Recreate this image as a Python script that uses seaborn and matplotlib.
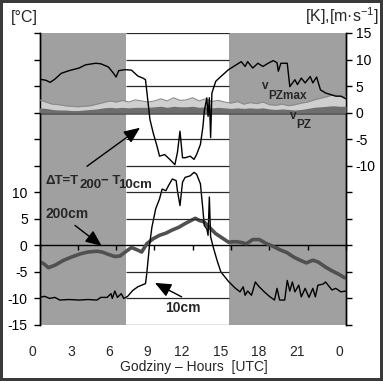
import numpy as np
import matplotlib
matplotlib.use("Agg")
import matplotlib.pyplot as plt
import matplotlib.transforms as mtransforms
import seaborn as sns

# Temperature difference dT = T200 - T10cm [K] (right axis)
dt_hours = [0.0, 0.5, 0.83, 1.2, 1.7, 2.3, 3.1, 3.6, 4.4, 4.8, 5.4, 5.8, 6.0, 6.2,
            6.7, 7.2, 7.7, 8.1, 8.3, 8.5, 8.65, 8.9, 9.2, 9.4, 9.8, 10.2, 10.6,
            10.8, 11.0, 11.2, 11.4, 11.8, 12.1, 12.3, 12.6, 12.8, 12.9, 13.1,
            13.2, 13.3, 13.4, 13.5, 13.8, 14.2, 14.8, 15.4, 15.8, 16.1, 16.3,
            16.7, 17.1, 17.5, 17.9, 18.3, 18.6, 18.7, 18.9, 19.1, 19.4, 19.6,
            20.0, 20.2, 20.5, 20.8, 21.2, 21.4, 21.7, 22.0, 22.4, 22.8, 23.2,
            23.6, 24.0]
dt_vals = [6.3, 6.1, 5.7, 6.3, 7.4, 7.9, 8.4, 9.0, 9.3, 9.2, 8.6, 7.4, 6.7, 7.9,
           8.1, 8.0, 6.9, 6.5, 6.2, 1.9, -1.3, -3.8, -6.3, -8.2, -7.9, -8.8, -9.8,
           -7.5, -3.5, -8.5, -8.5, -8.2, -8.8, -7.9, -6.0, -2.6, 0.2, 2.8,
           -0.7, 2.8, -4.7, 3.7, 5.9, 6.8, 8.1, 9.0, 9.6, 8.7, 9.6,
           8.4, 9.3, 8.7, 9.3, 9.8, 9.4, 7.8, 9.3, 9.3, 9.3, 4.9,
           6.2, 5.3, 6.5, 5.6, 6.8, 5.6, 6.7, 4.3, 3.7, 3.4, 3.1,
           3.1, 2.6]

# Air temperature at 200 cm [deg C] (left axis)
t200_hours = [0.0, 0.3, 0.7, 1.2, 1.9, 2.5, 3.2, 3.8, 4.5, 4.9, 5.4, 5.9, 6.3, 6.8,
              7.2, 7.7, 8.0, 8.4, 8.9, 9.4, 9.9, 10.4, 10.9, 11.4, 11.8, 12.2,
              12.5, 12.9, 13.3, 13.8, 14.3, 14.8, 15.3, 15.7, 16.2, 16.7, 17.2,
              17.8, 18.3, 18.8, 19.4, 19.9, 20.4, 20.9, 21.4, 21.8, 22.4, 22.9,
              23.4, 23.9]
t200_vals = [-3.1, -3.4, -4.2, -3.75, -2.8, -2.2, -1.6, -1.25, -1.1, -1.25, -1.7,
             -2.1, -2.0, -1.1, -0.4, -0.9, -1.25, 0.3, 1.25, 1.9, 2.3, 2.9, 3.4,
             4.1, 4.6, 5.1, 4.7, 4.4, 3.4, 2.2, 1.4, 0.6, 0.7, 0.6, 0.3, 1.1, 1.1,
             0.3, -0.2, -0.8, -1.4, -2.2, -2.8, -3.3, -2.8, -3.1, -4.1, -4.8,
             -5.4, -6.1]

# Temperature at 10 cm [deg C] (left axis)
t10_hours = [0.0, 0.4, 0.8, 1.2, 1.6, 2.3, 3.1, 3.8, 4.5, 4.8, 5.3, 5.6, 5.7, 5.9,
             6.1, 6.4, 6.6, 6.9, 7.3, 7.7, 8.3, 8.4, 8.6, 8.8, 9.1, 9.4, 9.6,
             9.9, 10.1, 10.4, 10.7, 10.8, 11.0, 11.2, 11.4, 11.8, 12.1, 12.3,
             12.6, 12.8, 12.9, 13.1, 13.2, 13.3, 13.4, 13.6, 13.9, 14.2, 14.8,
             15.3, 15.7, 15.95, 16.1, 16.3, 16.6, 16.9, 17.2, 17.6, 18.0, 18.4,
             18.6, 18.8, 19.2, 19.4, 19.6, 19.8, 20.0, 20.3, 20.5, 20.8, 21.1,
             21.4, 21.6, 21.8, 22.2, 22.4, 22.7, 22.9, 23.2, 23.6, 24.0]
t10_vals = [-9.8, -9.6, -10.0, -9.8, -10.3, -10.2, -10.3, -10.2, -10.3, -9.8, -9.8,
            -9.1, -10.0, -8.6, -9.8, -9.1, -10.0, -9.6, -8.5, -7.8, -7.2, -5.3,
            -0.3, 3.4, 6.9, 8.75, 10.6, 10.3, 11.25, 12.5, 12.2, 10.3, 7.5, 11.9,
            12.8, 13.1, 13.75, 13.4, 11.6, 6.6, 3.75, 3.1, 1.9, 9.1, 1.6, -0.3,
            -2.8, -5.0, -6.8, -8.0, -8.75, -7.8, -9.4, -8.6, -9.4, -6.9, -7.8,
            -8.75, -9.6, -10.3, -8.1, -10.3, -10.3, -6.6, -8.6, -6.9, -8.75, -7.5,
            -9.7, -8.1, -9.8, -8.1, -9.7, -7.5, -7.3, -6.9, -7.8, -8.4, -8.1,
            -8.75, -8.6]

# Wind speed [m/s] (right axis)
wind_hours = [0, 0.5, 1, 1.5, 2, 2.5, 3, 3.5, 4, 4.5, 5, 5.5, 6, 6.5, 7, 7.5, 8,
              8.5, 9, 9.5, 10, 10.5, 11, 11.5, 12, 12.5, 13, 13.5, 14, 14.5, 15,
              15.5, 16, 16.5, 17, 17.5, 18, 18.5, 19, 19.5, 20, 20.5, 21, 21.5,
              22, 22.5, 23, 23.5, 24]
v_pzmax = [2.4, 2.0, 1.6, 1.5, 1.3, 1.2, 1.1, 1.2, 1.3, 1.6, 1.9, 2.2, 2.0, 2.3,
           2.0, 2.4, 2.2, 2.0, 2.2, 2.6, 2.2, 2.8, 2.3, 2.4, 2.8, 2.2, 2.6, 2.1,
           2.3, 2.0, 1.8, 2.1, 1.6, 1.9, 1.7, 2.0, 1.5, 1.4, 1.6, 1.3, 1.5, 1.8,
           2.0, 2.4, 2.7, 3.0, 3.4, 3.1, 3.0]
v_pz = [0.9, 0.8, 0.6, 0.5, 0.5, 0.4, 0.4, 0.5, 0.6, 0.7, 0.9, 1.0, 0.9, 1.0,
        0.9, 1.0, 1.0, 1.0, 1.1, 1.2, 1.0, 1.2, 1.1, 1.1, 1.2, 1.0, 1.1, 0.9,
        1.0, 0.9, 0.8, 0.9, 0.8, 0.9, 0.8, 0.9, 0.7, 0.6, 0.7, 0.6, 0.5, 0.6,
        0.8, 1.0, 1.1, 1.2, 1.3, 1.2, 1.2]

night = [(0, 6.77), (14.84, 24)]
hour_ticks = [0, 3, 6, 9, 12, 15, 18, 21, 24]
hour_labels = ["0", "3", "6", "9", "12", "15", "18", "21", "0"]
left_ticks = list(range(-15, 41, 5))
right_ticks = list(range(-40, 16, 5))

sns.set_style("ticks")
plt.rcParams["font.family"] = ["Liberation Sans", "DejaVu Sans"]
plt.rcParams["mathtext.default"] = "regular"

W, H = 383, 381
fig = plt.figure(figsize=(W / 100, H / 100), dpi=100)
fig.patch.set_edgecolor("#3a3a3a")
fig.patch.set_linewidth(3)


def px(x, y):
    return x / W, 1 - y / H


ax = fig.add_axes([39.5 / W, 56 / H, 306.5 / W, 292 / H])
ax2 = ax.twinx()

for a, b in night:
    ax.axvspan(a, b, color="#a0a0a0", lw=0, zorder=0)

# grid only shows in the daylight (white) part
day = (night[0][1], night[1][0])
grid_vals = [v for v in right_ticks if v not in (0, -25)]
ax2.hlines(grid_vals, day[0], day[1], color="#2a2a2a", lw=0.9, zorder=1)
ax2.axhline(0, color="#4a4a4a", lw=1.8, zorder=2)

# temperatures on the left axis
sns.lineplot(x=t200_hours, y=t200_vals, ax=ax, color="#505050", linewidth=2.6,
             estimator=None, sort=False, zorder=3)
sns.lineplot(x=t10_hours, y=t10_vals, ax=ax, color="black", linewidth=1.0,
             estimator=None, sort=False, zorder=4)

# wind and dT on the right axis
ax2.fill_between(wind_hours, 0, v_pzmax, color="#cfcfcf", lw=0, zorder=2)
sns.lineplot(x=wind_hours, y=v_pzmax, ax=ax2, color="#8a8a8a", linewidth=0.8,
             estimator=None, sort=False, zorder=3)
ax2.fill_between(wind_hours, 0, v_pz, color="#6e6e6e", lw=0, zorder=3)
sns.lineplot(x=dt_hours, y=dt_vals, ax=ax2, color="black", linewidth=1.0,
             estimator=None, sort=False, zorder=5)

ax.set_xlim(0, 24)
ax.set_ylim(-15, 40)
ax2.set_ylim(-40, 15)
ax.set_xlabel("")
ax.set_ylabel("")
ax2.set_ylabel("")

for a in (ax, ax2):
    a.spines["top"].set_visible(False)
    for s in a.spines.values():
        s.set_color("black")
        s.set_linewidth(1.0)
ax2.spines["bottom"].set_visible(False)
ax.spines["bottom"].set_position(("data", 0))

ax.set_yticks(left_ticks)
ax.set_yticklabels([str(v) if v <= 10 else "" for v in left_ticks])
ax2.set_yticks(right_ticks)
ax2.set_yticklabels([str(v) if v >= -10 else "" for v in right_ticks])
ax.tick_params(axis="y", direction="out", length=4.5, width=1, pad=4,
               labelsize=10, colors="black")
ax2.tick_params(axis="y", direction="out", length=4.5, width=1, pad=2.5,
                labelsize=10, colors="black")
ax.set_xticks(hour_ticks)
ax.tick_params(axis="x", direction="out", length=3.5, width=1,
               labelbottom=False, colors="black")

# hour labels sit below the plot, right-aligned just left of each tick
lab_tr = mtransforms.offset_copy(ax.get_xaxis_transform(), fig=fig,
                                 x=-3, y=0, units="dots")
for h, lab in zip(hour_ticks, hour_labels):
    ax.text(h, -0.0925, lab, transform=lab_tr, ha="right", va="center",
            fontsize=10, clip_on=False)

fig.text(*px(194, 367), "Godziny \u2013 Hours  [UTC]", ha="center",
         va="center", fontsize=10)
fig.text(*px(24, 17.5), "[\u00b0C]", ha="center", va="center", fontsize=11.5)
fig.text(*px(379, 16), "[K],[m\u00b7s$^{-1}$]", ha="right", va="center",
         fontsize=11.5)


# label pieces placed one after another, each shifted (dx, dy) in points
def chain(parts, x, y, size):
    prev = fig.text(*px(x, y), parts[0][0], fontsize=size, fontweight="bold",
                    ha="left", va="baseline")
    for txt, dx, dy in parts[1:]:
        prev = ax.annotate(txt, xy=(1, 0), xycoords=prev, xytext=(dx, dy),
                           textcoords="offset points", fontsize=size,
                           fontweight="bold", ha="left", va="bottom",
                           annotation_clip=False)


chain([("\u0394T=T",), ("200", 0, -3), ("\u2212 T", 0, 3), ("10cm", -1.5, -3)],
      46, 184, 9.5)
chain([("v",), ("PZmax", 0, -7)], 262, 89, 8.5)
chain([("v",), ("PZ", 0, -6.5)], 290, 119, 8.5)

fig.text(*px(45, 218), "200cm", fontsize=10, fontweight="bold", ha="left",
         va="baseline")
fig.text(*px(165, 311.5), "10cm", fontsize=10, fontweight="bold", ha="left",
         va="baseline")

arrow = dict(arrowstyle="-|>,head_length=0.7,head_width=0.3", color="black",
             lw=1.0, mutation_scale=14, shrinkA=0, shrinkB=0)
ax2.annotate("", xy=(7.87, -2.85), xytext=(3.72, -10.1), arrowprops=arrow)
ax.annotate("", xy=(4.87, -0.1), xytext=(2.78, 3.75), arrowprops=arrow)
ax.annotate("", xy=(9.04, -7.07), xytext=(11.13, -9.7), arrowprops=arrow)

fig.savefig("out.png", dpi=100)
